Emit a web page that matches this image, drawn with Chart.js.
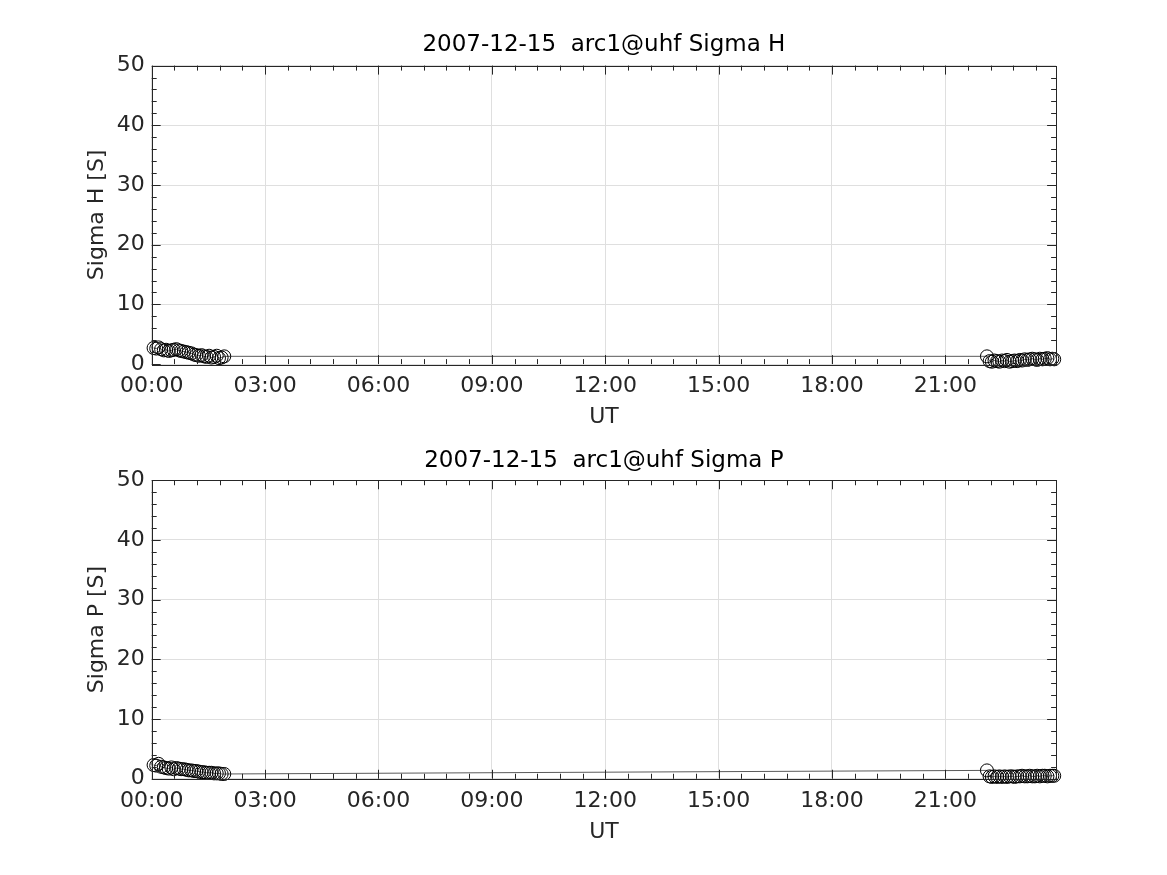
<!DOCTYPE html>
<html>
<head>
<meta charset="utf-8">
<script src="https://cdn.jsdelivr.net/npm/chart.js@4"></script>
<style>
  html, body { margin: 0; padding: 0; background: #fff; }
  #wrap { position: relative; width: 1167px; height: 875px; }
  #topChart { position: absolute; left: 0; top: 0; }
  #botChart { position: absolute; left: 0; top: 437px; }
</style>
</head>
<body>
<div id="wrap">
  <canvas id="topChart" width="1167" height="437"></canvas>
  <canvas id="botChart" width="1167" height="438"></canvas>
</div>
<script>
// UT hours of each sample
const morningHours = [0.05, 0.12, 0.18, 0.25, 0.32, 0.38, 0.45, 0.52, 0.58, 0.65, 0.72, 0.78, 0.85, 0.92, 0.98,
  1.05, 1.12, 1.18, 1.25, 1.32, 1.38, 1.45, 1.52, 1.58, 1.65, 1.72, 1.78, 1.85, 1.92];
const eveningHours = [22.10, 22.17, 22.23, 22.30, 22.37, 22.43, 22.50, 22.57, 22.63, 22.70, 22.77, 22.83, 22.90, 22.97,
  23.03, 23.10, 23.17, 23.23, 23.30, 23.37, 23.43, 23.50, 23.57, 23.63, 23.70, 23.77, 23.83, 23.88];

// Sigma H [S]
const sigmaHMorning = [2.7, 2.6, 2.8, 2.5, 2.3, 2.4, 2.2, 2.3, 2.4, 2.5, 2.3, 2.2, 2.1, 2.0, 1.9,
  1.8, 1.6, 1.5, 1.4, 1.5, 1.3, 1.2, 1.4, 1.1, 1.2, 1.4, 1.0, 1.1, 1.3];
const sigmaHEvening = [1.3, 0.5, 0.4, 0.6, 0.5, 0.4, 0.6, 0.5, 0.7, 0.4, 0.5, 0.6, 0.5, 0.7,
  0.6, 0.8, 0.7, 0.8, 0.9, 0.8, 0.7, 0.9, 0.8, 0.9, 1.0, 0.8, 0.9, 0.8];

// Sigma P [S]
const sigmaPMorning = [2.3, 2.2, 2.5, 2.0, 1.9, 1.8, 1.7, 1.9, 1.6, 1.8, 1.7, 1.6, 1.6, 1.5, 1.4,
  1.4, 1.3, 1.3, 1.2, 1.1, 1.1, 1.0, 1.0, 1.0, 0.9, 0.9, 0.9, 0.8, 0.8];
const sigmaPEvening = [1.4, 0.4, 0.3, 0.4, 0.3, 0.4, 0.3, 0.4, 0.3, 0.4, 0.4, 0.3, 0.4, 0.4,
  0.5, 0.4, 0.4, 0.5, 0.4, 0.4, 0.5, 0.4, 0.5, 0.5, 0.4, 0.5, 0.5, 0.5];

const xTickHours = [0, 3, 6, 9, 12, 15, 18, 21];
const yTicks = [0, 10, 20, 30, 40, 50];

const FONT = 'DejaVu Sans';
const TEXT = '#262626';

function points(hours, vals) {
  return hours.map((h, i) => ({ x: h, y: vals[i] }));
}

// MATLAB-like box with inward major/minor ticks on all four sides
const boxTicks = {
  id: 'boxTicks',
  afterDraw(chart) {
    const { ctx, chartArea: a, scales: { x, y } } = chart;
    ctx.save();
    ctx.strokeStyle = TEXT;
    ctx.lineWidth = 1;
    ctx.beginPath();
    const major = 9, minor = 5;
    const vline = (px, len) => {
      px = Math.round(px) + 0.5;
      ctx.moveTo(px, a.bottom); ctx.lineTo(px, a.bottom - len);
      ctx.moveTo(px, a.top); ctx.lineTo(px, a.top + len);
    };
    const hline = (py, len) => {
      py = Math.round(py) + 0.5;
      ctx.moveTo(a.left, py); ctx.lineTo(a.left + len, py);
      ctx.moveTo(a.right, py); ctx.lineTo(a.right - len, py);
    };
    for (let m = 0; m * 0.6 < x.max; m++) vline(x.getPixelForValue(m * 0.6), m % 5 === 0 ? major : minor);
    for (let m = 0; m * 2 <= y.max; m++) hline(y.getPixelForValue(m * 2), m % 5 === 0 ? major : minor);
    ctx.stroke();
    ctx.strokeRect(Math.round(a.left) + 0.5, Math.round(a.top) + 0.5,
      Math.round(a.right - a.left), Math.round(a.bottom - a.top));
    ctx.restore();
  }
};

function makeChart(id, title, yLabel, data, titlePad, xHeight, padBottom) {
  return new Chart(document.getElementById(id), {
    type: 'line',
    data: {
      datasets: [{
        data: data,
        borderColor: 'rgba(0,0,0,0.65)',
        borderWidth: 1,
        pointRadius: 6.5,
        pointBorderWidth: 1,
        pointBorderColor: '#000',
        pointBackgroundColor: 'rgba(0,0,0,0)',
        tension: 0,
        clip: false
      }]
    },
    options: {
      responsive: false,
      animation: false,
      devicePixelRatio: 1,
      layout: { padding: { left: 84, right: 110.9, top: 0, bottom: padBottom } },
      plugins: {
        legend: { display: false },
        tooltip: { enabled: false },
        title: {
          display: true,
          text: title,
          fullSize: false,
          color: '#000',
          font: { family: FONT, size: 23, weight: 'normal', lineHeight: 1.2 },
          padding: titlePad
        }
      },
      scales: {
        x: {
          type: 'linear',
          min: 0,
          max: 23.93,
          afterFit: s => { s.height = xHeight; },
          afterBuildTicks: s => { s.ticks = xTickHours.map(v => ({ value: v })); },
          ticks: {
            color: TEXT,
            padding: 9,
            maxRotation: 0,
            font: { family: FONT, size: 22, lineHeight: 1.2 },
            callback: v => String(v).padStart(2, '0') + ':00'
          },
          grid: { color: '#dfdfdf', drawTicks: false },
          border: { display: false },
          title: {
            display: true, text: 'UT', color: TEXT, padding: 0,
            font: { family: FONT, size: 22, lineHeight: 1.2 }
          }
        },
        y: {
          min: 0,
          max: 50,
          afterFit: s => { s.width = 67.7; },
          afterBuildTicks: s => { s.ticks = yTicks.map(v => ({ value: v })); },
          ticks: {
            color: TEXT,
            padding: 7,
            font: { family: FONT, size: 22, lineHeight: 1.2 }
          },
          grid: { color: '#dfdfdf', drawTicks: false },
          border: { display: false },
          title: {
            display: true, text: yLabel, color: TEXT, padding: 0,
            font: { family: FONT, size: 22, lineHeight: 1.2 }
          }
        }
      }
    },
    plugins: [boxTicks]
  });
}

const hData = points(morningHours.concat(eveningHours), sigmaHMorning.concat(sigmaHEvening));
const pData = points(morningHours.concat(eveningHours), sigmaPMorning.concat(sigmaPEvening));

makeChart('topChart', '2007-12-15  arc1@uhf Sigma H', 'Sigma H [S]', hData,
  { top: 31.3, bottom: 6.7 }, 65.9, 7);
makeChart('botChart', '2007-12-15  arc1@uhf Sigma P', 'Sigma P [S]', pData,
  { top: 10.3, bottom: 5.35 }, 66.45, 29.8);
</script>
</body>
</html>
